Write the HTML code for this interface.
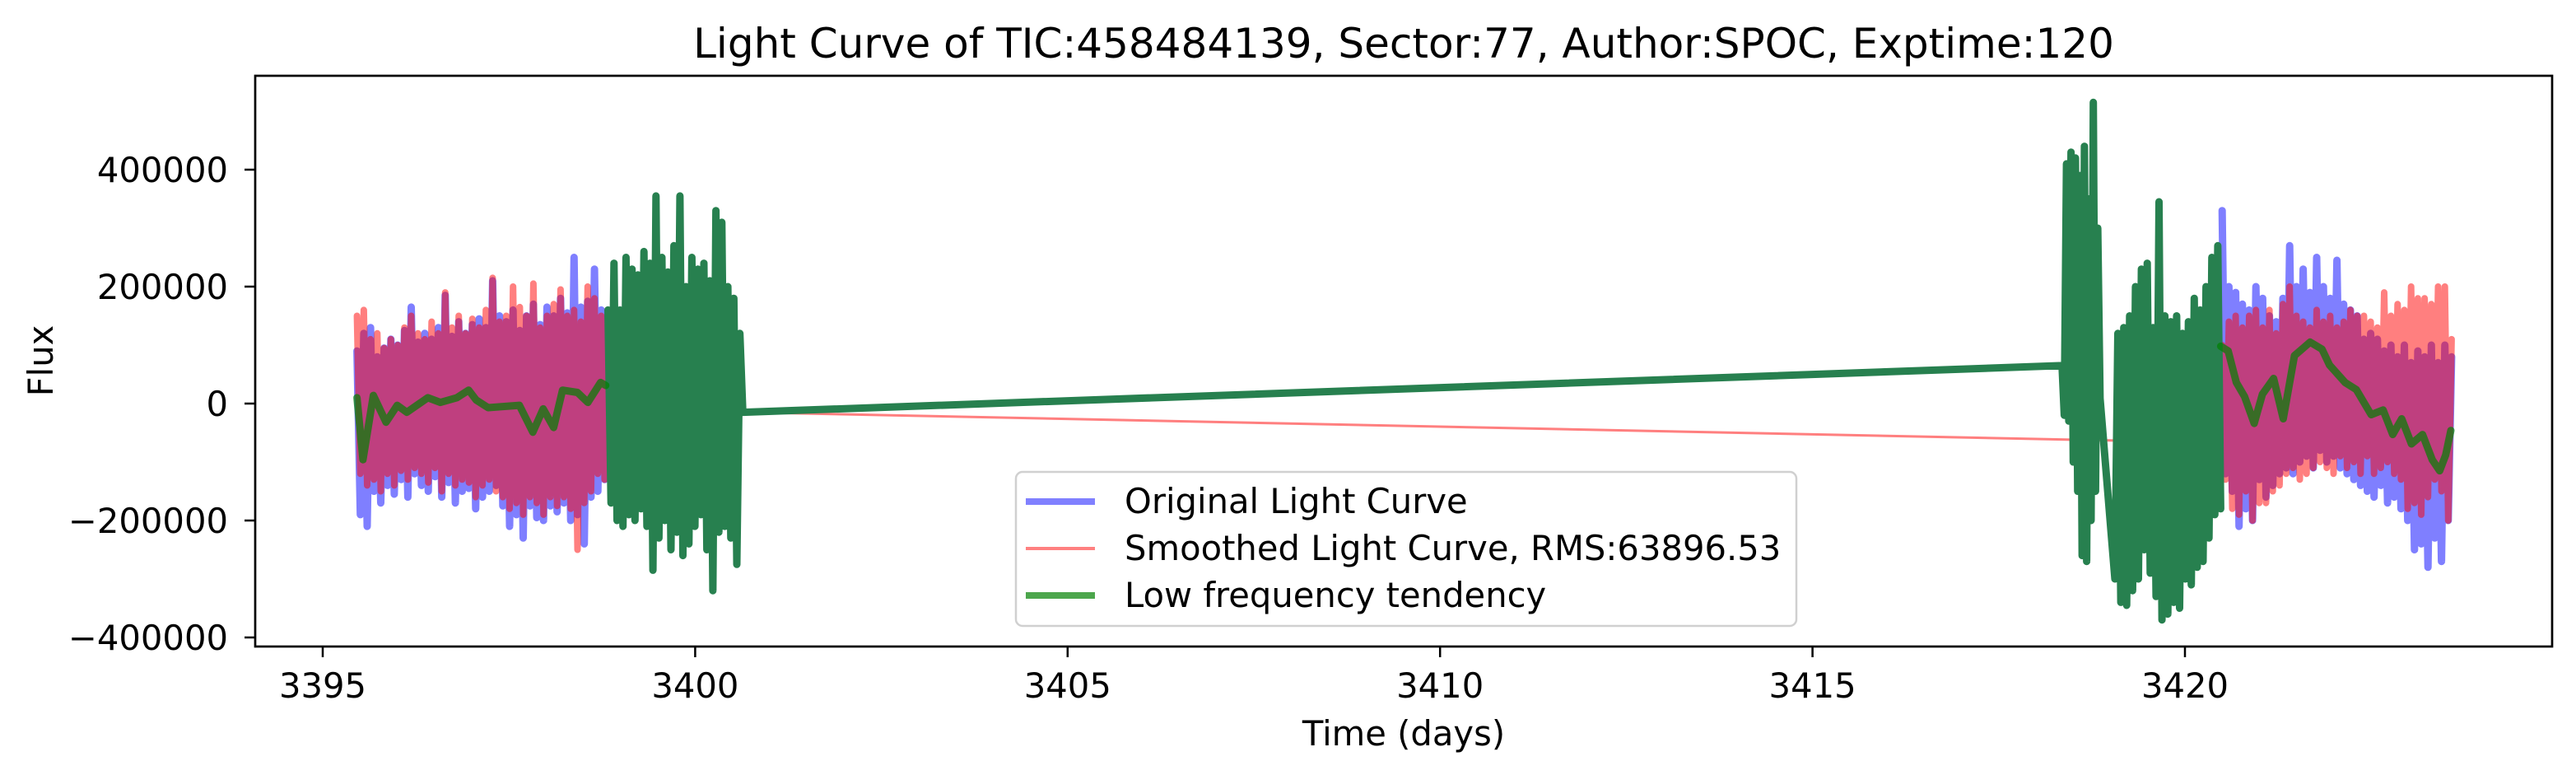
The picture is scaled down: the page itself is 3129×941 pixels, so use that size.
<!DOCTYPE html>
<html><head><meta charset="utf-8"><style>
html,body{margin:0;padding:0;background:#fff;}
svg{display:block;font-family:"DejaVu Sans","Liberation Sans",sans-serif;}
</style></head><body>
<svg id="chart" width="3129" height="941" viewBox="0 0 3129 941" xmlns="http://www.w3.org/2000/svg">
<rect x="0" y="0" width="3129" height="941" fill="#fff"/>
<text x="1705" y="70" font-size="50" text-anchor="middle">Light Curve of TIC:458484139, Sector:77, Author:SPOC, Exptime:120</text>
<g id="plot"></g>
<g id="axes"></g>
<text x="1705" y="905" font-size="41.7" text-anchor="middle">Time (days)</text>
<text transform="translate(64,438) rotate(-90)" font-size="41.7" text-anchor="middle">Flux</text>
<g>
<rect x="1234" y="573" width="948" height="187" rx="8" fill="#fff" fill-opacity="0.8" stroke="#d0d0d0" stroke-width="2.5"/>
<line x1="1246" y1="609" x2="1330" y2="609" stroke="#8080ff" stroke-width="8"/>
<text x="1366" y="623" font-size="41.7">Original Light Curve</text>
<line x1="1246" y1="666" x2="1330" y2="666" stroke="#ff8080" stroke-width="4"/>
<text x="1366" y="680" font-size="41.7">Smoothed Light Curve, RMS:63896.53</text>
<line x1="1246" y1="723" x2="1330" y2="723" stroke="#4ca64c" stroke-width="8"/>
<text x="1366" y="737" font-size="41.7">Low frequency tendency</text>
</g>
</svg>
<script>
// ---- data (flux in thousands) ----
const segATime = [3395.46, 3398.83];
const blueA = [90,-190,120,-210,130,-150,80,-170,95,-140,110,-155,100,-130,125,-160,165,-120,105,-140,120,-150,110,-125,130,-160,185,-135,115,-170,140,-150,120,-145,135,-180,145,-160,130,-150,210,-140,150,-175,140,-210,160,-190,125,-230,150,-175,170,-195,135,-200,165,-175,150,-185,180,-170,155,-200,250,-190,165,-240,175,-160,230,-150,160,-130,150];
const redA = [150,-120,160,-140,110,-130,120,-150,95,-120,110,-140,100,-115,130,-130,150,-110,120,-120,110,-135,140,-110,120,-150,190,-120,130,-140,150,-130,120,-135,145,-160,130,-140,160,-130,215,-150,140,-160,150,-180,200,-170,165,-190,150,-160,205,-170,130,-190,150,-160,170,-175,195,-160,150,-180,160,-250,140,-170,200,-150,180,-120,150,-130,160];
const trendATimes = [3395.46,3395.54,3395.68,3395.85,3396.0,3396.13,3396.41,3396.58,3396.8,3396.96,3397.06,3397.22,3397.64,3397.82,3397.96,3398.1,3398.22,3398.42,3398.56,3398.73,3398.8];
const trendAValues = [10,-96,14,-32,-3,-15,10,2,10,23,6,-7,-3,-49,-9,-41,23,19,2,36,31];
const g1Time = [3398.83, 3400.64];
const g1 = [160,-170,240,-200,160,-210,250,-190,230,-200,220,-180,260,-210,240,-285,355,-230,250,-200,225,-250,270,-220,355,-260,200,-240,250,-210,230,-190,240,-250,210,-320,330,-220,310,-210,200,-230,180,-275,120,-15];
const gapTimes = [3400.64, 3418.35];
const gapValues = [-15, 65];
const g2aTime = [3418.35, 3418.86];
const g2a = [65,-20,410,-30,430,-100,420,-150,390,-260,440,-270,350,-200,515,-150,300,9];
const g2bTime = [3419.06, 3420.48];
const g2b = [-300,120,-340,130,-345,150,-320,200,-300,230,-250,240,-290,130,-330,345,-370,150,-360,140,-340,150,-350,120,-300,140,-310,180,-280,160,-270,200,-230,250,-190,270,-180];
const smoothGapTimes = [3398.83, 3420.5];
const smoothGapValues = [-10, -67];
const segBTime = [3420.5, 3423.58];
const blueB = [330,-120,200,-150,190,-210,170,-180,160,-200,200,-130,180,-160,150,-140,140,-120,180,-110,270,-120,200,-100,230,-90,190,-110,250,-80,200,-100,180,-90,245,-110,170,-120,160,-130,150,-140,110,-150,120,-160,110,-140,90,-170,100,-160,80,-180,100,-200,70,-250,90,-240,80,-280,100,-230,70,-270,100,-200,80];
const redB = [100,-130,140,-180,150,-190,130,-150,150,-200,160,-170,130,-170,160,-150,120,-140,170,-120,200,-110,150,-130,140,-120,130,-110,160,-100,140,-110,150,-120,130,-90,140,-110,160,-100,150,-120,150,-90,140,-120,130,-110,190,-100,150,-120,170,-130,160,-180,200,-170,180,-190,180,-160,170,-130,200,-150,200,-200,110];
const trendBTimes = [3420.48,3420.58,3420.69,3420.8,3420.93,3421.04,3421.19,3421.32,3421.47,3421.68,3421.84,3421.94,3422.15,3422.3,3422.5,3422.66,3422.79,3422.91,3423.04,3423.19,3423.32,3423.42,3423.5,3423.57];
const trendBValues = [98,90,36,12,-34,16,43,-26,82,105,93,66,36,24,-19,-11,-53,-26,-69,-53,-96,-115,-88,-46];
const xTicks = [3395,3400,3405,3410,3415,3420];
const yTicks = [-400000,-200000,0,200000,400000];
const yTickLabels = ["\u2212400000","\u2212200000","0","200000","400000"];

// ---- axes ----
const L=310,R=3100,T=92,B=785;
function xs(t){return 392+(t-3395)*90.48;}
function ys(v){return 490-v*0.00071;}
function spread(range,vals){const n=vals.length;return vals.map((v,i)=>[range[0]+(range[1]-range[0])*(n>1?i/(n-1):0),v*1000]);}
function pairs(ts,vs){return ts.map((t,i)=>[t,vs[i]*1000]);}
function pts(arr){return arr.map(p=>xs(p[0]).toFixed(1)+","+ys(p[1]).toFixed(1)).join(" ");}
const NS="http://www.w3.org/2000/svg";
const plot=document.getElementById('plot');
function poly(arr,color,w,name){
  const el=document.createElementNS(NS,'polyline');
  el.setAttribute('points',pts(arr));
  el.setAttribute('fill','none');
  el.setAttribute('stroke',color);
  el.setAttribute('stroke-width',w);
  el.setAttribute('stroke-linejoin','round');
  el.setAttribute('stroke-linecap','round');
  
  
  plot.appendChild(el);
}
poly(spread(segATime,blueA),'rgba(0,0,255,0.5)',9,'original-curve-segment-a');
poly(spread(segBTime,blueB),'rgba(0,0,255,0.5)',9,'original-curve-segment-b');
poly(spread(segATime,redA),'rgba(255,0,0,0.5)',8,'smoothed-curve-segment-a');
poly(spread(segBTime,redB),'rgba(255,0,0,0.5)',8,'smoothed-curve-segment-b');
poly(pairs(smoothGapTimes,smoothGapValues),'rgba(255,0,0,0.5)',3,'smoothed-gap-line');
poly(spread(g1Time,g1).concat(pairs(gapTimes,gapValues)).concat(spread(g2aTime,g2a)).concat(spread(g2bTime,g2b)),'#27804f',9,'trend-gap-noise');
poly(pairs(trendATimes,trendAValues),'rgba(0,128,0,0.7)',9,'trend-segment-a');
poly(pairs(trendBTimes,trendBValues),'rgba(0,128,0,0.7)',9,'trend-segment-b');

const ax=document.getElementById('axes');
function add(tag,attrs,name,text){
  const el=document.createElementNS(NS,tag);
  for(const k in attrs) el.setAttribute(k,attrs[k]);
  
  
  if(text!==undefined) el.textContent=text;
  ax.appendChild(el);
  return el;
}
add('rect',{x:L,y:T,width:R-L,height:B-T,fill:'none',stroke:'#000','stroke-width':2.7},'axes-frame');
xTicks.forEach(t=>{
  add('line',{x1:xs(t),y1:B,x2:xs(t),y2:B+13,stroke:'#000','stroke-width':2.5},'x-tick');
  add('text',{x:xs(t),y:847,'font-size':41.7,'text-anchor':'middle'},'x-tick-label',String(t));
});
yTicks.forEach((v,i)=>{
  add('line',{x1:L-13,y1:ys(v),x2:L,y2:ys(v),stroke:'#000','stroke-width':2.5},'y-tick');
  add('text',{x:277,y:ys(v)+15,'font-size':41.7,'text-anchor':'end'},'y-tick-label',yTickLabels[i]);
});
</script>
</body></html>
